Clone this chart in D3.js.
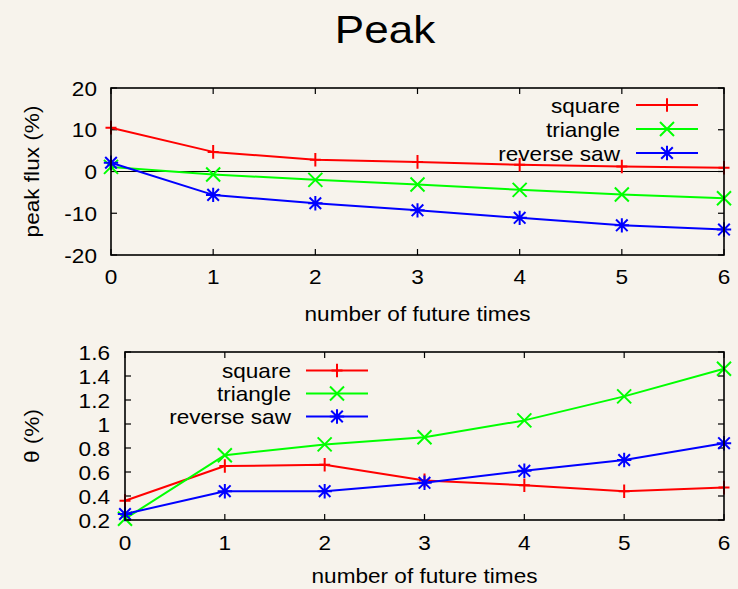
<!DOCTYPE html>
<html>
<head>
<meta charset="utf-8">
<script src="https://cdn.jsdelivr.net/npm/d3@7"></script>
<style>
  html, body { margin: 0; padding: 0; background: #f7f3ec; }
  svg { display: block; }
  text { font-family: "Liberation Sans", Arial, sans-serif; fill: #000; }
</style>
</head>
<body>
<svg id="chart" width="738" height="589"></svg>
<script>
// ---- data ----
const futureTimes = [0, 1, 2, 3, 4, 5, 6];
const seriesNames = ["square", "triangle", "reverse saw"];
const seriesColors = ["#ff0000", "#00ff00", "#0000ff"];

const peakSquare   = [10.5, 4.7, 2.8, 2.3, 1.6, 1.2, 0.9];
const peakTriangle = [1.1, -0.7, -2.0, -3.1, -4.4, -5.5, -6.4];
const peakSaw      = [2.1, -5.6, -7.6, -9.3, -11.1, -12.9, -13.9];

const thetaSquare   = [0.36, 0.65, 0.66, 0.53, 0.49, 0.44, 0.47];
const thetaTriangle = [0.21, 0.74, 0.83, 0.89, 1.03, 1.23, 1.46];
const thetaSaw      = [0.25, 0.44, 0.44, 0.51, 0.61, 0.70, 0.84];

const peakTicks  = ["-20", "-10", "0", "10", "20"];
const thetaTicks = ["0.2", "0.4", "0.6", "0.8", "1", "1.2", "1.4", "1.6"];
const xTicks     = ["0", "1", "2", "3", "4", "5", "6"];

// ---- drawing ----
const svg = d3.select("#chart");
const FONT = 20, SX = 1.13, TICK = 6;

// point symbols: plus, cross, star
const markerPaths = [
  "M-5.5,0H5.5M0,-6.8V6.8",
  "M-7,-7L7,7M-7,7L7,-7",
  "M-7.2,0H7.2M0,-7.2V7.2M-5.8,-5.8L5.8,5.8M-5.8,5.8L5.8,-5.8"
];

function label(g, x, y, str, anchor, size, rot) {
  return g.append("text")
    .attr("transform", `translate(${x},${y})` + (rot ? ` rotate(${rot})` : "") + ` scale(${SX},1)`)
    .attr("text-anchor", anchor)
    .attr("font-size", size)
    .text(str);
}

function panel(opts) {
  const { left, right, top, bottom, yDomain, yTicks, series, legend, yLabel, yLabelX, yTickRight, xLabelY, xTickY, zeroLine } = opts;
  const g = svg.append("g");
  const x = d3.scaleLinear().domain([0, 6]).range([left, right]);
  const y = d3.scaleLinear().domain(yDomain).range([bottom, top]);

  // tick marks (inward, mirrored on the opposite side)
  const tg = g.append("g").attr("stroke", "#000").attr("stroke-width", 1.2);
  yTicks.forEach(s => {
    const v = +s;
    tg.append("line").attr("x1", left).attr("x2", left + TICK).attr("y1", y(v)).attr("y2", y(v));
    tg.append("line").attr("x1", right).attr("x2", right - TICK).attr("y1", y(v)).attr("y2", y(v));
  });
  xTicks.forEach(s => {
    const v = +s;
    tg.append("line").attr("x1", x(v)).attr("x2", x(v)).attr("y1", bottom).attr("y2", bottom - TICK);
    tg.append("line").attr("x1", x(v)).attr("x2", x(v)).attr("y1", top).attr("y2", top + TICK);
  });

  if (zeroLine) {
    g.append("line").attr("x1", left).attr("x2", right).attr("y1", y(0)).attr("y2", y(0))
      .attr("stroke", "#000").attr("stroke-width", 1.2);
  }

  // tick labels
  yTicks.forEach(s => label(g, yTickRight, y(+s) + 7.5, s, "end", FONT));
  xTicks.forEach(s => label(g, x(+s), xTickY, s, "middle", FONT));

  // axis titles
  label(g, (left + right) / 2, xLabelY, "number of future times", "middle", FONT);
  label(g, yLabelX, (top + bottom) / 2, yLabel, "middle", FONT, -90);

  // series lines + symbols
  const line = d3.line().x((d, i) => x(futureTimes[i])).y(d => y(d));
  series.forEach((vals, k) => {
    const sg = g.append("g").attr("stroke", seriesColors[k]).attr("fill", "none").attr("stroke-width", 2);
    sg.append("path").attr("d", line(vals)).attr("stroke-linejoin", "round");
    vals.forEach((v, i) => {
      sg.append("path").attr("d", markerPaths[k])
        .attr("transform", `translate(${x(futureTimes[i])},${y(v)})`);
    });
  });

  // legend
  seriesNames.forEach((name, k) => {
    const ly = legend.y0 + k * legend.dy;
    label(g, legend.textRight, ly + 7.5, name, "end", FONT);
    const lg = g.append("g").attr("stroke", seriesColors[k]).attr("fill", "none").attr("stroke-width", 2);
    lg.append("line").attr("x1", legend.lineX1).attr("x2", legend.lineX2).attr("y1", ly).attr("y2", ly);
    lg.append("path").attr("d", markerPaths[k])
      .attr("transform", `translate(${(legend.lineX1 + legend.lineX2) / 2},${ly})`);
  });

  // frame
  g.append("rect").attr("x", left).attr("y", top).attr("width", right - left).attr("height", bottom - top)
    .attr("fill", "none").attr("stroke", "#000").attr("stroke-width", 1.6);
}

// title
label(svg, 385, 43, "Peak", "middle", 39);

panel({
  left: 111, right: 724, top: 88, bottom: 255,
  yDomain: [-20, 20], yTicks: peakTicks,
  series: [peakSquare, peakTriangle, peakSaw],
  legend: { y0: 105, dy: 24, textRight: 620, lineX1: 636, lineX2: 698 },
  yLabel: "peak flux (%)", yLabelX: 39, yTickRight: 97,
  xLabelY: 321, xTickY: 284, zeroLine: true
});

panel({
  left: 125, right: 724, top: 352, bottom: 520,
  yDomain: [0.2, 1.6], yTicks: thetaTicks,
  series: [thetaSquare, thetaTriangle, thetaSaw],
  legend: { y0: 370.5, dy: 23, textRight: 291, lineX1: 306, lineX2: 368 },
  yLabel: "θ (%)", yLabelX: 38.5, yTickRight: 110,
  xLabelY: 583, xTickY: 550, zeroLine: false
});
</script>
</body>
</html>
